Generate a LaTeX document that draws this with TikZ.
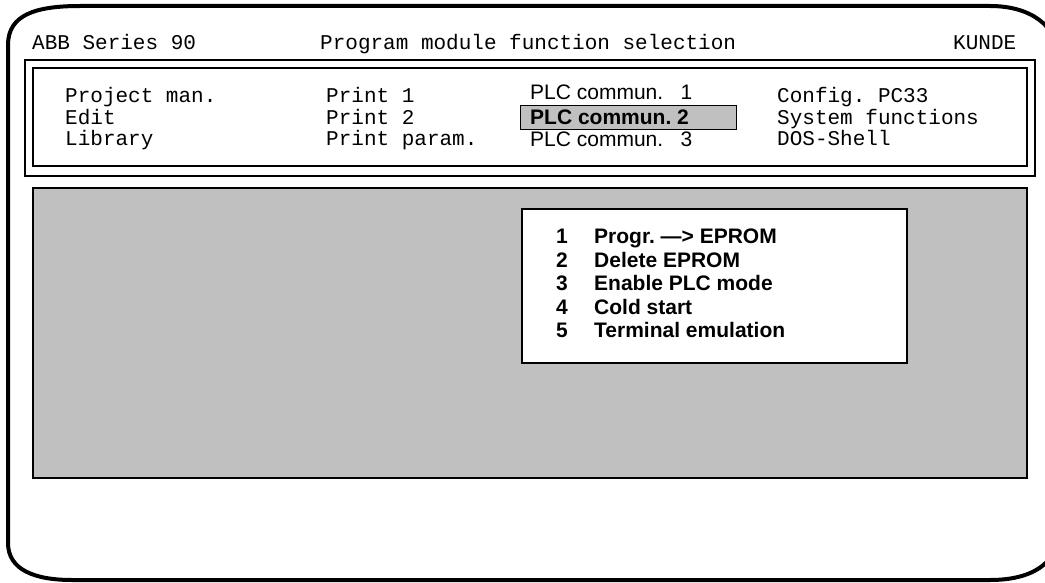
\documentclass[tikz,border=0pt]{standalone}
\usepackage{fontspec}
\newfontfamily\screenmono{Liberation Mono}
\newfontfamily\screensans{Liberation Sans}
\usepackage{tikz}
\usetikzlibrary{positioning}
\usepackage{xcolor}
\definecolor{panelgray}{RGB}{192,192,192}
\frenchspacing
\tikzset{
  frame/.style   = {draw=black, line width=4pt, line join=round},
  menubox/.style = {draw=black, line width=2pt},
  panel/.style   = {draw=black, line width=2pt, fill=panelgray},
  popup/.style   = {draw=black, line width=2.5pt, fill=white},
  hilite/.style  = {draw=black, line width=1pt, fill=panelgray},
  monotxt/.style = {anchor=base west, inner sep=0pt,
                    font=\fontsize{21}{25}\selectfont\screenmono\frenchspacing},
  sanstxt/.style = {anchor=base west, inner sep=0pt,
                    font=\fontsize{21}{25}\selectfont\screensans\frenchspacing},
  boldtxt/.style = {anchor=base west, inner sep=0pt,
                    font=\fontsize{21}{25}\selectfont\screensans\bfseries\frenchspacing},
}

\begin{document}
\begin{tikzpicture}[x=1pt, y=-1pt]
  \useasboundingbox (0,0) rectangle (1045,583);
  \clip (0,0) rectangle (1045,583);
  % screen outline
  \draw[frame] (8,543) -- (8,45) .. controls (8,15) and (35,6) .. (80,6)
    -- (990,6) .. controls (1030,6) and (1058,25) .. (1060,60)
    -- (1060,530) .. controls (1058,565) and (1030,580) .. (990,580)
    -- (72,580) .. controls (35,580) and (8,570) .. (8,543) -- cycle;
  % header line
  \node[monotxt] (hdr1) at (32,50)  {ABB Series 90};
  \node[monotxt] (hdr2) at (320,50) {Program module function selection};
  \node[monotxt] (hdr3) at (953,50) {KUNDE};
  % menu frame
  \draw[menubox] (25,60) rectangle (1035,176);
  \draw[menubox] (33,68) rectangle (1027,166);
  % menu entries
  \foreach \i/\lbl in {1/Project man., 2/Edit, 3/Library} {
    \node[monotxt] (ma\i) at (65, 81.5+21.5*\i) {\lbl};
  }
  \foreach \i/\lbl in {1/Print 1, 2/Print 2, 3/Print param.} {
    \node[monotxt] (mb\i) at (326, 81.5+21.5*\i) {\lbl};
  }
  \foreach \i/\lbl in {1/Config. PC33, 2/System functions, 3/DOS-Shell} {
    \node[monotxt] (md\i) at (777, 81.5+21.5*\i) {\lbl};
  }
  \draw[hilite] (520,106) rectangle (736,130);
  \node[sanstxt] (mc1) at (530,100) {PLC commun.\ \ \ 1};
  \node[boldtxt] (mc2) at (530,125) {PLC commun. 2};
  \node[sanstxt] (mc3) at (530,147) {PLC commun.\ \ \ 3};
  % work area
  \draw[panel] (33,188) rectangle (1027,478);
  \draw[popup] (522,209) rectangle (907,363);
  \foreach \i/\lbl in {1/Progr. —> EPROM, 2/Delete EPROM, 3/Enable PLC mode,
                       4/Cold start, 5/Terminal emulation} {
    \node[boldtxt] (pn\i) at (556, 220.4+23.4*\i) {\i};
    \node[boldtxt] (pl\i) at (594, 220.4+23.4*\i) {\lbl};
  }
\end{tikzpicture}
\end{document}
